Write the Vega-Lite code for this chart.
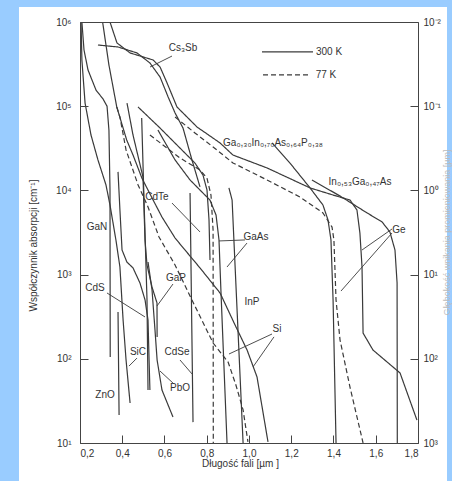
{
"$schema": "https://vega.github.io/schema/vega-lite/v6.json",
"width": 338, "height": 421,
"autosize": {"type": "none"},
"padding": {"left": 80, "top": 22, "right": 34, "bottom": 38},
"background": "#99ccff",
"config": {
  "view": {"stroke": null},
  "axis": {"zindex": 1, "grid": false, "domainColor": "#444", "tickColor": "#444", "labelColor": "#333", "labelFont": "Liberation Sans", "labelFontSize": 10, "titleFont": "Liberation Sans", "titleFontSize": 10, "titleFontWeight": "normal", "titleColor": "#333", "tickSize": -8, "labelPadding": 13},
  "text": {"font": "Liberation Sans", "fontSize": 10, "fill": "#333"}
},
"datasets": {
  "curves": [
    {"c":"GaN","T":"300 K","i":0,"wl":0.209,"a":1000000},{"c":"GaN","T":"300 K","i":1,"wl":0.219,"a":465000},{"c":"GaN","T":"300 K","i":2,"wl":0.238,"a":269000},{"c":"GaN","T":"300 K","i":3,"wl":0.276,"a":155000},{"c":"GaN","T":"300 K","i":4,"wl":0.309,"a":122000},{"c":"GaN","T":"300 K","i":5,"wl":0.328,"a":100000},{"c":"GaN","T":"300 K","i":6,"wl":0.337,"a":51900},{"c":"GaN","T":"300 K","i":7,"wl":0.342,"a":10000},{"c":"GaN","T":"300 K","i":8,"wl":0.343,"a":105},
    {"c":"SiC","T":"300 K","i":0,"wl":0.205,"a":1000000},{"c":"SiC","T":"300 K","i":1,"wl":0.209,"a":354000},{"c":"SiC","T":"300 K","i":2,"wl":0.224,"a":109000},{"c":"SiC","T":"300 K","i":3,"wl":0.252,"a":45500},{"c":"SiC","T":"300 K","i":4,"wl":0.285,"a":23000},{"c":"SiC","T":"300 K","i":5,"wl":0.323,"a":11600},{"c":"SiC","T":"300 K","i":6,"wl":0.342,"a":6710},{"c":"SiC","T":"300 K","i":7,"wl":0.370,"a":2580},{"c":"SiC","T":"300 K","i":8,"wl":0.389,"a":1230},{"c":"SiC","T":"300 K","i":9,"wl":0.404,"a":289},{"c":"SiC","T":"300 K","i":10,"wl":0.418,"a":97},{"c":"SiC","T":"300 K","i":11,"wl":0.437,"a":29.9},
    {"c":"ZnO","T":"300 K","i":0,"wl":0.380,"a":360},{"c":"ZnO","T":"300 K","i":1,"wl":0.385,"a":21.5},
    {"c":"Si300","T":"300 K","i":0,"wl":0.307,"a":1000000},{"c":"Si300","T":"300 K","i":1,"wl":0.337,"a":308000},{"c":"Si300","T":"300 K","i":2,"wl":0.374,"a":98000},{"c":"Si300","T":"300 K","i":3,"wl":0.421,"a":39700},{"c":"Si300","T":"300 K","i":4,"wl":0.451,"a":26300},{"c":"Si300","T":"300 K","i":5,"wl":0.493,"a":14000},{"c":"Si300","T":"300 K","i":6,"wl":0.546,"a":7690},{"c":"Si300","T":"300 K","i":7,"wl":0.588,"a":4830},{"c":"Si300","T":"300 K","i":8,"wl":0.650,"a":2720},{"c":"Si300","T":"300 K","i":9,"wl":0.697,"a":1960},{"c":"Si300","T":"300 K","i":10,"wl":0.768,"a":1200},{"c":"Si300","T":"300 K","i":11,"wl":0.863,"a":605},{"c":"Si300","T":"300 K","i":12,"wl":0.934,"a":252},{"c":"Si300","T":"300 K","i":13,"wl":0.991,"a":127},{"c":"Si300","T":"300 K","i":14,"wl":1.038,"a":60.8},{"c":"Si300","T":"300 K","i":15,"wl":1.090,"a":10.3},
    {"c":"Si77","T":"77 K","i":0,"wl":0.374,"a":98000},{"c":"Si77","T":"77 K","i":1,"wl":0.389,"a":74500},{"c":"Si77","T":"77 K","i":2,"wl":0.418,"a":30200},{"c":"Si77","T":"77 K","i":3,"wl":0.475,"a":11600},{"c":"Si77","T":"77 K","i":4,"wl":0.522,"a":6350},{"c":"Si77","T":"77 K","i":5,"wl":0.574,"a":2800},{"c":"Si77","T":"77 K","i":6,"wl":0.650,"a":1300},{"c":"Si77","T":"77 K","i":7,"wl":0.730,"a":499},{"c":"Si77","T":"77 K","i":8,"wl":0.830,"a":154},{"c":"Si77","T":"77 K","i":9,"wl":0.901,"a":91.6},{"c":"Si77","T":"77 K","i":10,"wl":0.938,"a":48.9},{"c":"Si77","T":"77 K","i":11,"wl":0.972,"a":24.7},{"c":"Si77","T":"77 K","i":12,"wl":0.995,"a":10.3},
    {"c":"CdS","T":"300 K","i":0,"wl":0.380,"a":16600},{"c":"CdS","T":"300 K","i":1,"wl":0.389,"a":5850},{"c":"CdS","T":"300 K","i":2,"wl":0.399,"a":1960},{"c":"CdS","T":"300 K","i":3,"wl":0.422,"a":1410},{"c":"CdS","T":"300 K","i":4,"wl":0.451,"a":1200},{"c":"CdS","T":"300 K","i":5,"wl":0.484,"a":794},{"c":"CdS","T":"300 K","i":6,"wl":0.508,"a":499},{"c":"CdS","T":"300 K","i":7,"wl":0.522,"a":289},{"c":"CdS","T":"300 K","i":8,"wl":0.527,"a":96.8},{"c":"CdS","T":"300 K","i":9,"wl":0.531,"a":42.6},
    {"c":"CdS2","T":"300 K","i":0,"wl":0.492,"a":72400},{"c":"CdS2","T":"300 K","i":1,"wl":0.503,"a":7690},{"c":"CdS2","T":"300 K","i":2,"wl":0.5172,"a":499},{"c":"CdS2","T":"300 K","i":3,"wl":0.522,"a":42.7},
    {"c":"GaP","T":"300 K","i":0,"wl":0.4225,"a":109000},{"c":"GaP","T":"300 K","i":1,"wl":0.4509,"a":45500},{"c":"GaP","T":"300 K","i":2,"wl":0.4982,"a":14400},{"c":"GaP","T":"300 K","i":3,"wl":0.5077,"a":2580},{"c":"GaP","T":"300 K","i":4,"wl":0.5172,"a":1300},{"c":"GaP","T":"300 K","i":5,"wl":0.5408,"a":713},{"c":"GaP","T":"300 K","i":6,"wl":0.5645,"a":460},{"c":"GaP","T":"300 K","i":7,"wl":0.565,"a":182},
    {"c":"PbO","T":"300 K","i":0,"wl":0.522,"a":1410},{"c":"PbO","T":"300 K","i":1,"wl":0.541,"a":656},{"c":"PbO","T":"300 K","i":2,"wl":0.555,"a":220},{"c":"PbO","T":"300 K","i":3,"wl":0.565,"a":96.8},{"c":"PbO","T":"300 K","i":4,"wl":0.588,"a":42.6},{"c":"PbO","T":"300 K","i":5,"wl":0.640,"a":20.4},
    {"c":"CdSe","T":"300 K","i":0,"wl":0.721,"a":9300},{"c":"CdSe","T":"300 K","i":1,"wl":0.735,"a":17.7},
    {"c":"CdTe","T":"300 K","i":0,"wl":0.4746,"a":98000},{"c":"CdTe","T":"300 K","i":1,"wl":0.5787,"a":55100},{"c":"CdTe","T":"300 K","i":2,"wl":0.673,"a":31900},{"c":"CdTe","T":"300 K","i":3,"wl":0.7443,"a":21100},{"c":"CdTe","T":"300 K","i":4,"wl":0.7822,"a":15200},{"c":"CdTe","T":"300 K","i":5,"wl":0.8012,"a":10100},{"c":"CdTe","T":"300 K","i":6,"wl":0.8107,"a":4460},{"c":"CdTe","T":"300 K","i":7,"wl":0.8154,"a":1490},
    {"c":"GaAs300","T":"300 K","i":0,"wl":0.569,"a":52100},{"c":"GaAs300","T":"300 K","i":1,"wl":0.650,"a":23000},{"c":"GaAs300","T":"300 K","i":2,"wl":0.721,"a":13300},{"c":"GaAs300","T":"300 K","i":3,"wl":0.768,"a":10100},{"c":"GaAs300","T":"300 K","i":4,"wl":0.815,"a":7690},{"c":"GaAs300","T":"300 K","i":5,"wl":0.844,"a":5100},{"c":"GaAs300","T":"300 K","i":6,"wl":0.858,"a":2580},{"c":"GaAs300","T":"300 K","i":7,"wl":0.867,"a":656},{"c":"GaAs300","T":"300 K","i":8,"wl":0.896,"a":10},
    {"c":"GaAs77","T":"77 K","i":0,"wl":0.531,"a":45500},{"c":"GaAs77","T":"77 K","i":1,"wl":0.673,"a":24300},{"c":"GaAs77","T":"77 K","i":2,"wl":0.768,"a":17500},{"c":"GaAs77","T":"77 K","i":3,"wl":0.801,"a":14000},{"c":"GaAs77","T":"77 K","i":4,"wl":0.820,"a":8810},{"c":"GaAs77","T":"77 K","i":5,"wl":0.830,"a":3380},{"c":"GaAs77","T":"77 K","i":6,"wl":0.831,"a":10},
    {"c":"InP","T":"300 K","i":0,"wl":0.905,"a":10700},{"c":"InP","T":"300 K","i":1,"wl":0.920,"a":7690},{"c":"InP","T":"300 K","i":2,"wl":0.972,"a":10},
    {"c":"Ge300","T":"300 K","i":0,"wl":0.342,"a":1000000},{"c":"Ge300","T":"300 K","i":1,"wl":0.375,"a":564000},{"c":"Ge300","T":"300 K","i":2,"wl":0.437,"a":429000},{"c":"Ge300","T":"300 K","i":3,"wl":0.546,"a":354000},{"c":"Ge300","T":"300 K","i":4,"wl":0.579,"a":292000},{"c":"Ge300","T":"300 K","i":5,"wl":0.612,"a":189000},{"c":"Ge300","T":"300 K","i":6,"wl":0.659,"a":98000},{"c":"Ge300","T":"300 K","i":7,"wl":0.754,"a":56600},{"c":"Ge300","T":"300 K","i":8,"wl":0.863,"a":36600},{"c":"Ge300","T":"300 K","i":9,"wl":0.924,"a":26300},{"c":"Ge300","T":"300 K","i":10,"wl":1.085,"a":18500},{"c":"Ge300","T":"300 K","i":11,"wl":1.289,"a":10700},{"c":"Ge300","T":"300 K","i":12,"wl":1.398,"a":8810},{"c":"Ge300","T":"300 K","i":13,"wl":1.478,"a":7690},{"c":"Ge300","T":"300 K","i":14,"wl":1.511,"a":5850},{"c":"Ge300","T":"300 K","i":15,"wl":1.525,"a":3120},{"c":"Ge300","T":"300 K","i":16,"wl":1.535,"a":1230},{"c":"Ge300","T":"300 K","i":17,"wl":1.540,"a":202},{"c":"Ge300","T":"300 K","i":18,"wl":1.587,"a":127},{"c":"Ge300","T":"300 K","i":19,"wl":1.715,"a":67.9},{"c":"Ge300","T":"300 K","i":20,"wl":1.795,"a":18.7},
    {"c":"Ge77","T":"77 K","i":0,"wl":0.650,"a":74500},{"c":"Ge77","T":"77 K","i":1,"wl":0.744,"a":48100},{"c":"Ge77","T":"77 K","i":2,"wl":0.830,"a":32800},{"c":"Ge77","T":"77 K","i":3,"wl":0.924,"a":21200},{"c":"Ge77","T":"77 K","i":4,"wl":1.085,"a":13300},{"c":"Ge77","T":"77 K","i":5,"wl":1.241,"a":8360},{"c":"Ge77","T":"77 K","i":6,"wl":1.350,"a":5400},{"c":"Ge77","T":"77 K","i":7,"wl":1.393,"a":3670},{"c":"Ge77","T":"77 K","i":8,"wl":1.402,"a":2580},{"c":"Ge77","T":"77 K","i":9,"wl":1.412,"a":499},{"c":"Ge77","T":"77 K","i":10,"wl":1.431,"a":167},{"c":"Ge77","T":"77 K","i":11,"wl":1.478,"a":46.2},{"c":"Ge77","T":"77 K","i":12,"wl":1.540,"a":10},
    {"c":"Cs3Sb","T":"300 K","i":0,"wl":0.285,"a":533000},{"c":"Cs3Sb","T":"300 K","i":1,"wl":0.380,"a":505000},{"c":"Cs3Sb","T":"300 K","i":2,"wl":0.470,"a":429000},{"c":"Cs3Sb","T":"300 K","i":3,"wl":0.531,"a":326000},{"c":"Cs3Sb","T":"300 K","i":4,"wl":0.579,"a":222000},{"c":"Cs3Sb","T":"300 K","i":5,"wl":0.617,"a":129000},{"c":"Cs3Sb","T":"300 K","i":6,"wl":0.650,"a":83200},{"c":"Cs3Sb","T":"300 K","i":7,"wl":0.6876,"a":55100},{"c":"Cs3Sb","T":"300 K","i":8,"wl":0.730,"a":23000},{"c":"Cs3Sb","T":"300 K","i":9,"wl":0.768,"a":11000},
    {"c":"InGaAsP","T":"300 K","i":0,"wl":1.109,"a":36600},{"c":"InGaAsP","T":"300 K","i":1,"wl":1.194,"a":21100},{"c":"InGaAsP","T":"300 K","i":2,"wl":1.289,"a":10700},{"c":"InGaAsP","T":"300 K","i":3,"wl":1.350,"a":6710},{"c":"InGaAsP","T":"300 K","i":4,"wl":1.374,"a":4460},{"c":"InGaAsP","T":"300 K","i":5,"wl":1.388,"a":2580},{"c":"InGaAsP","T":"300 K","i":6,"wl":1.398,"a":499},{"c":"InGaAsP","T":"300 K","i":7,"wl":1.412,"a":10},
    {"c":"InGaAs","T":"300 K","i":0,"wl":1.298,"a":13300},{"c":"InGaAs","T":"300 K","i":1,"wl":1.431,"a":8570},{"c":"InGaAs","T":"300 K","i":2,"wl":1.559,"a":5400},{"c":"InGaAs","T":"300 K","i":3,"wl":1.630,"a":4220},{"c":"InGaAs","T":"300 K","i":4,"wl":1.667,"a":3210},{"c":"InGaAs","T":"300 K","i":5,"wl":1.691,"a":1960},{"c":"InGaAs","T":"300 K","i":6,"wl":1.701,"a":794},{"c":"InGaAs","T":"300 K","i":7,"wl":1.702,"a":10}
  ],
  "labels": [
    {"t":"Cs₃Sb","wl":0.6876,"a":491000},
    {"t":"GaN","wl":0.2805,"a":3670},
    {"t":"CdTe","wl":0.5645,"a":8360},
    {"t":"GaAs","wl":1.0331,"a":2800},
    {"t":"GaP","wl":0.6544,"a":912},
    {"t":"CdS","wl":0.271,"a":693},
    {"t":"InP","wl":1.0142,"a":473},
    {"t":"Si","wl":1.1325,"a":226},
    {"t":"SiC","wl":0.4746,"a":120},
    {"t":"CdSe","wl":0.6592,"a":120},
    {"t":"ZnO","wl":0.3183,"a":37.2},
    {"t":"PbO","wl":0.6734,"a":45},
    {"t":"Ga₀,₃₀In₀,₇₀As₀,₆₄P₀,₃₈","wl":1.1136,"a":36600},
    {"t":"In₀,₅₃Ga₀,₄₇As","wl":1.5254,"a":12600},
    {"t":"Ge","wl":1.710,"a":3390},
    {"t":"300 K","wl":1.3787,"a":441000},
    {"t":"77 K","wl":1.3645,"a":235000}
  ],
  "leaders": [
    {"x1":0.6355,"x2":0.5314,"y1":394000,"y2":292000},
    {"x1":0.6355,"x2":0.768,"y1":7080,"y2":3210},
    {"x1":0.981,"x2":0.858,"y1":2580,"y2":2510},
    {"x1":0.9905,"x2":0.8959,"y1":2370,"y2":1230},
    {"x1":0.6402,"x2":0.5645,"y1":773,"y2":424},
    {"x1":0.3278,"x2":0.5077,"y1":605,"y2":314},
    {"x1":1.1089,"x2":0.9053,"y1":197,"y2":114},
    {"x1":1.1183,"x2":1.0189,"y1":182,"y2":80},
    {"x1":0.4698,"x2":0.432,"y1":102,"y2":82},
    {"x1":0.6734,"x2":0.7302,"y1":96.8,"y2":66.1},
    {"x1":0.645,"x2":0.5787,"y1":50.2,"y2":71.6},
    {"x1":1.677,"x2":1.535,"y1":3480,"y2":1960},
    {"x1":1.677,"x2":1.4355,"y1":3120,"y2":638}
  ],
  "legend": [
    {"T":"300 K","x1":1.0615,"x2":1.303,"y":441000},
    {"T":"77 K","x1":1.0663,"x2":1.2935,"y":235000}
  ]
},
"layer": [
  {
    "layer": [
      {
        "data": {"values": [{}]},
        "mark": {"type": "rect", "color": "white"},
        "encoding": {
          "x": {"datum": -0.0888, "type": "quantitative", "scale": {"domain": [0.2, 1.8], "nice": false, "zero": false}, "axis": null},
          "x2": {"datum": 1.9373},
          "y": {"datum": 1507000, "type": "quantitative", "scale": {"type": "log", "domain": [10, 1000000], "nice": false}, "axis": null},
          "y2": {"datum": 3.54}
        }
      },
      {
        "data": {"name": "curves"},
        "mark": {"type": "line", "clip": true, "strokeWidth": 1.2, "color": "#3a3a3a"},
        "encoding": {
          "x": {"field": "wl", "type": "quantitative", "scale": {"domain": [0.2, 1.8], "nice": false, "zero": false},
                "axis": {"zindex": 2, "orient": "bottom", "values": [0.2,0.4,0.6,0.8,1.0,1.2,1.4,1.6,1.8], "labelExpr": "replace(format(datum.value, '.1f'), '.', ',')", "title": "Długość fali [µm ]", "titleX": 160, "titleY": 15, "titleBaseline": "top"}},
          "y": {"field": "a", "type": "quantitative", "scale": {"type": "log", "domain": [10, 1000000], "nice": false}, "axis": null},
          "detail": {"field": "c"},
          "order": {"field": "i"},
          "strokeDash": {"field": "T", "type": "nominal", "scale": {"domain": ["300 K", "77 K"], "range": [[1, 0], [5, 3]]}, "legend": null}
        }
      },
      {
        "data": {"name": "leaders"},
        "mark": {"type": "rule", "strokeWidth": 0.9, "color": "#3a3a3a"},
        "encoding": {
          "x": {"field": "x1", "type": "quantitative", "scale": {"domain": [0.2, 1.8], "nice": false, "zero": false}, "axis": null},
          "x2": {"field": "x2"},
          "y": {"field": "y1", "type": "quantitative", "scale": {"type": "log", "domain": [10, 1000000], "nice": false}, "axis": null},
          "y2": {"field": "y2"}
        }
      },
      {
        "data": {"name": "legend"},
        "mark": {"type": "rule", "strokeWidth": 1.2, "color": "#3a3a3a"},
        "encoding": {
          "x": {"field": "x1", "type": "quantitative", "scale": {"domain": [0.2, 1.8], "nice": false, "zero": false}, "axis": null},
          "x2": {"field": "x2"},
          "y": {"field": "y", "type": "quantitative", "scale": {"type": "log", "domain": [10, 1000000], "nice": false}, "axis": null},
          "strokeDash": {"field": "T", "type": "nominal", "scale": {"domain": ["300 K", "77 K"], "range": [[1, 0], [5, 3]]}, "legend": null}
        }
      },
      {
        "data": {"name": "labels"},
        "mark": {"type": "text", "align": "center", "baseline": "middle"},
        "encoding": {
          "x": {"field": "wl", "type": "quantitative", "scale": {"domain": [0.2, 1.8], "nice": false, "zero": false},
                "axis": {"zindex": 2, "orient": "top", "labels": false, "ticks": false, "title": null, "domain": true}},
          "y": {"field": "a", "type": "quantitative", "scale": {"type": "log", "domain": [10, 1000000], "nice": false}, "axis": null},
          "text": {"field": "t"}
        }
      }
    ]
  },
  {
    "mark": {"type": "rule", "opacity": 0},
    "encoding": {
      "y": {"datum": 1000, "type": "quantitative", "scale": {"type": "log", "domain": [10, 1000000], "nice": false},
            "axis": {"zindex": 2, "orient": "left", "values": [10,100,1000,10000,100000,1000000], "labelExpr": "'10' + ['⁰','¹','²','³','⁴','⁵','⁶'][round(log(datum.value)/LN10)]", "labelPadding": 17, "title": "Współczynnik absorpcji [cm⁻¹]", "titleX": -42, "titleY": 223}}
    }
  },
  {
    "mark": {"type": "rule", "opacity": 0},
    "encoding": {
      "y": {"datum": 1, "type": "quantitative", "scale": {"type": "log", "domain": [0.01, 1000], "reverse": true, "nice": false},
            "axis": {"zindex": 2, "orient": "right", "values": [0.01,0.1,1,10,100,1000], "labelExpr": "'10' + ['⁻²','⁻¹','⁰','¹','²','³'][round(log(datum.value)/LN10)+2]", "title": "Głębokość wnikania promieniowania [µm]", "titleColor": "#bbbbbb", "titleFontSize": 9, "titleAngle": 270, "titleBaseline": "bottom", "titleX": 33, "titleY": 210}}
    }
  }
],
"resolve": {"scale": {"y": "independent"}}
}
